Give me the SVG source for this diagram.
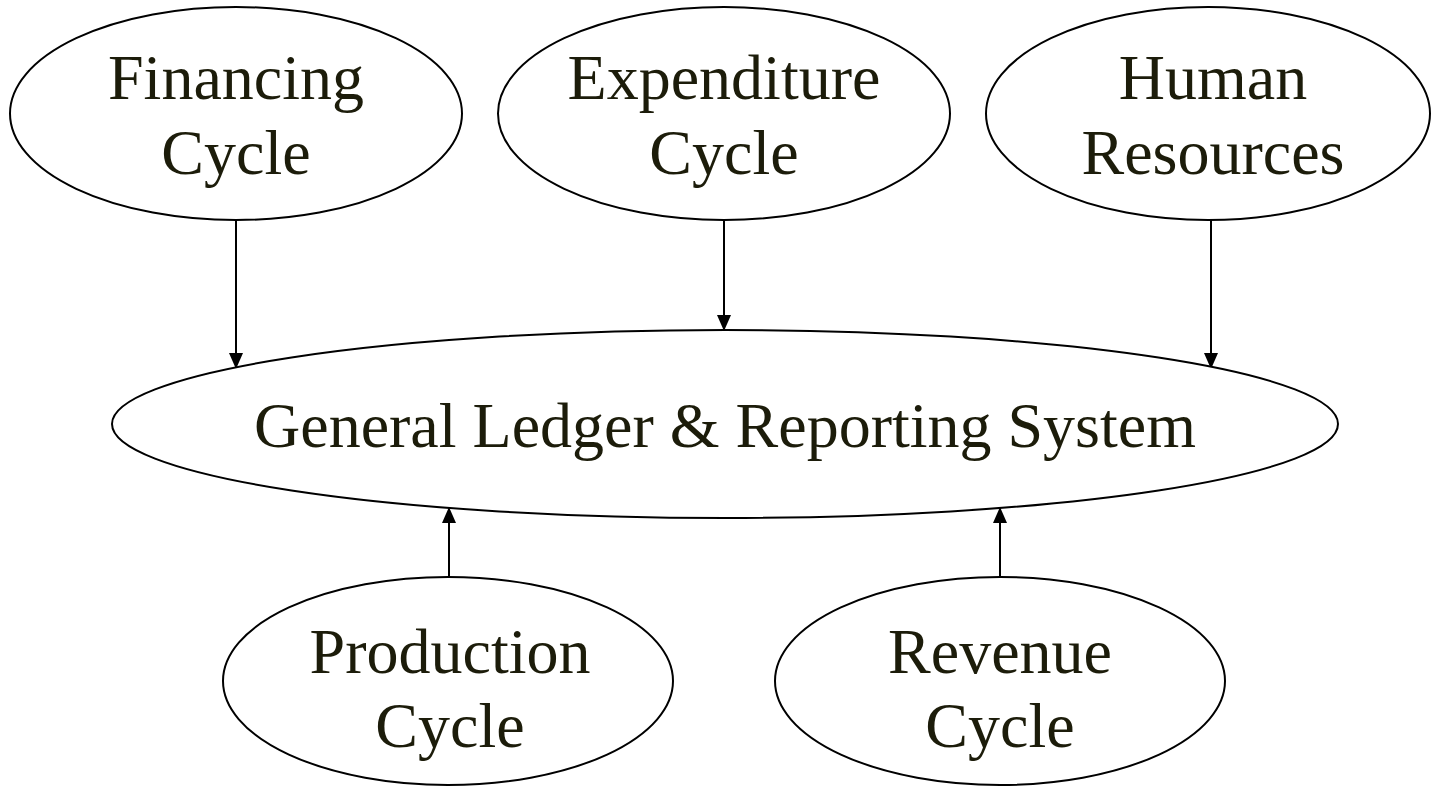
<svg xmlns="http://www.w3.org/2000/svg" width="1433" height="792" viewBox="0 0 1433 792">
  <style>
    .node ellipse { fill: #ffffff; stroke: #000000; stroke-width: 2; }
    .node text { font-family: "Liberation Serif", "Times New Roman", serif; font-size: 64px; fill: #1c1c0a; text-anchor: middle; }
    .conn line { stroke: #000000; stroke-width: 2; }
  </style>
  <defs>
    <marker id="arrow" viewBox="0 0 16 14" refX="15" refY="7" markerWidth="16" markerHeight="14" markerUnits="userSpaceOnUse" orient="auto">
      <path d="M0,0 L16,7 L0,14 Z" fill="#000000"/>
    </marker>
  </defs>
  <rect width="1433" height="792" fill="#ffffff"/>

  <g id="connectors" class="conn">
    <line x1="236" y1="220" x2="236" y2="368" marker-end="url(#arrow)"/>
    <line x1="724" y1="220" x2="724" y2="330" marker-end="url(#arrow)"/>
    <line x1="1211" y1="220" x2="1211" y2="368" marker-end="url(#arrow)"/>
    <line x1="449" y1="578" x2="449" y2="508" marker-end="url(#arrow)"/>
    <line x1="1000" y1="578" x2="1000" y2="508" marker-end="url(#arrow)"/>
  </g>

  <g id="financing" class="node">
    <ellipse cx="236" cy="113.5" rx="226" ry="106.5"/>
    <text x="236" y="99">Financing</text>
    <text x="236" y="174">Cycle</text>
  </g>
  <g id="expenditure" class="node">
    <ellipse cx="724" cy="113.5" rx="226" ry="106.5"/>
    <text x="724" y="99">Expenditure</text>
    <text x="724" y="174">Cycle</text>
  </g>
  <g id="human-resources" class="node">
    <ellipse cx="1208" cy="113.5" rx="222" ry="106.5"/>
    <text x="1213" y="99">Human</text>
    <text x="1213" y="174">Resources</text>
  </g>
  <g id="general-ledger" class="node">
    <ellipse cx="725" cy="424" rx="613" ry="94"/>
    <text x="725" y="447">General Ledger &amp; Reporting System</text>
  </g>
  <g id="production" class="node">
    <ellipse cx="448" cy="681" rx="225" ry="104"/>
    <text x="450" y="673">Production</text>
    <text x="450" y="747">Cycle</text>
  </g>
  <g id="revenue" class="node">
    <ellipse cx="1000" cy="681" rx="225" ry="104"/>
    <text x="1000" y="673">Revenue</text>
    <text x="1000" y="747">Cycle</text>
  </g>
</svg>
